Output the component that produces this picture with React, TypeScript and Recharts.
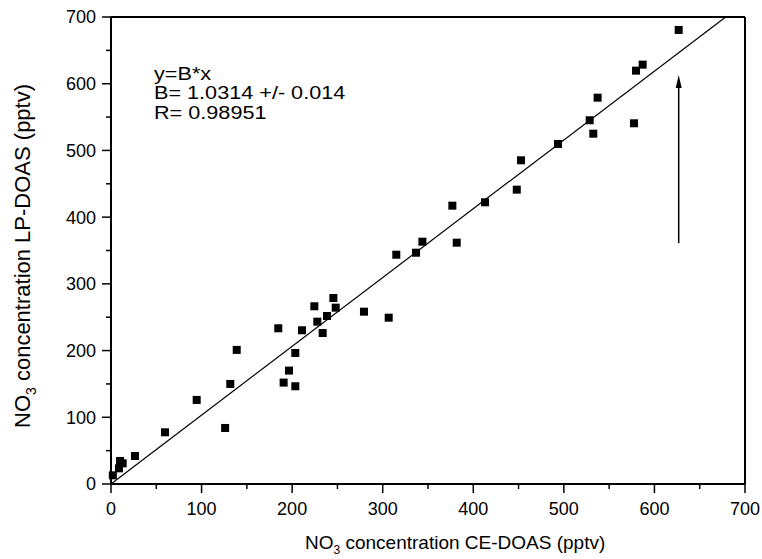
import React from 'react';
import { ScatterChart, Scatter, XAxis, YAxis, ReferenceLine } from 'recharts';

const ceDoas = [2, 8.8, 10, 12.9, 26.5, 59.6, 94.6, 126, 131.7, 138.8, 184.7, 190.6, 196.5, 203.5, 203.5, 210.9, 224.5, 227.8, 233.7, 238.5, 245.5, 248.1, 279.3, 306.6, 315, 336.8, 343.8, 376.9, 381.7, 413, 448, 452.7, 493.5, 528.5, 532.5, 537.3, 577.4, 579.7, 587, 626.8];
const lpDoas = [13, 23.5, 34.5, 31, 42, 77.5, 126, 84, 150, 201, 233.4, 152, 170, 146.5, 196.4, 230.4, 266.4, 243.3, 226.3, 251.8, 278.8, 264.3, 258.3, 249.3, 343.7, 346.7, 363.2, 417.2, 361.7, 422.3, 441.2, 485.2, 509.7, 545.2, 525.1, 579.1, 540.7, 619.6, 628.6, 680.6];
const axisTicks = [0, 50, 100, 150, 200, 250, 300, 350, 400, 450, 500, 550, 600, 650, 700];
const slopeB = 1.0314;
const annotationLines = ['y=B*x', 'B= 1.0314 +/- 0.014', 'R= 0.98951'];
const arrowX = 626.8;
const arrowFromY = 361;
const arrowToY = 613;

const data = ceDoas.map((x, i) => ({ x, y: lpDoas[i] }));

const FONT = '"Liberation Sans", Arial, sans-serif';
const isMajor = (v: number) => v % 100 === 0;

const BottomTick = (p: any) => {
  const v = p.payload.value;
  const major = isMajor(v);
  return (
    <g>
      <line x1={p.x} x2={p.x} y1={p.y} y2={p.y + (major ? 9 : 5)} stroke="#000" strokeWidth={1.5} />
      {major && (
        <text x={p.x} y={p.y + 31} textAnchor="middle" fontSize={18} fontFamily={FONT} fill="#000">{v}</text>
      )}
    </g>
  );
};
const LeftTick = (p: any) => {
  const v = p.payload.value;
  const major = isMajor(v);
  return (
    <g>
      <line x1={p.x - (major ? 9 : 5)} x2={p.x} y1={p.y} y2={p.y} stroke="#000" strokeWidth={1.5} />
      {major && (
        <text x={p.x - 15} y={p.y} dy="0.36em" textAnchor="end" fontSize={18} fontFamily={FONT} fill="#000">{v}</text>
      )}
    </g>
  );
};
const TopTick = (p: any) => {
  const major = isMajor(p.payload.value);
  return <line x1={p.x} x2={p.x} y1={p.y} y2={p.y + (major ? 10 : 5)} stroke="#000" strokeWidth={1.5} />;
};
const RightTick = (p: any) => {
  const major = isMajor(p.payload.value);
  return <line x1={p.x - (major ? 10 : 5)} x2={p.x} y1={p.y} y2={p.y} stroke="#000" strokeWidth={1.5} />;
};

const Square = (p: any) => <rect x={p.cx - 4} y={p.cy - 4} width={8} height={8} fill="#000" />;

const Arrow = (p: any) => {
  const { x1, y1, y2 } = p;
  const top = Math.min(y1, y2);
  const bottom = Math.max(y1, y2);
  return (
    <g>
      <line x1={x1} x2={x1} y1={bottom} y2={top + 10} stroke="#000" strokeWidth={1.5} />
      <polygon points={`${x1},${top} ${x1 - 3},${top + 13} ${x1 + 3},${top + 13}`} fill="#000" />
    </g>
  );
};

const XLabel = () => (
  <text x={305} y={549} fontSize={19} fontFamily={FONT} fill="#000">
    <tspan>NO</tspan>
    <tspan fontSize={12} dy={5}>3</tspan>
    <tspan dy={-5}> concentration CE-DOAS (pptv)</tspan>
  </text>
);
const YLabel = () => (
  <text x={0} y={0} transform="translate(30,428) rotate(-90)" fontSize={22} fontFamily={FONT} fill="#000">
    <tspan>NO</tspan>
    <tspan fontSize={14} dy={6}>3</tspan>
    <tspan dy={-6}> concentration LP-DOAS (pptv)</tspan>
  </text>
);

const Annotation = () => (
  <g>
    {annotationLines.map((t, i) => (
      <text key={i} x={0} y={0} transform={`translate(154,${80 + i * 19.3}) scale(1.17,1)`}
        fontSize={18.5} fontFamily={FONT} fill="#000">{t}</text>
    ))}
  </g>
);

export default function App() {
  return (
    <div style={{ position: 'absolute', left: 0, top: 0, width: 762, height: 559, background: '#fff' }}>
      <ScatterChart width={762} height={559} margin={{ top: 12, right: 12, bottom: 45, left: 51 }}>
        <XAxis type="number" dataKey="x" domain={[0, 700]} ticks={axisTicks} interval={0} height={30}
          tickSize={0} tickMargin={0} tickLine={false} axisLine={{ stroke: '#000', strokeWidth: 2 }} tick={BottomTick}
          label={() => <XLabel />} />
        <XAxis xAxisId="top" orientation="top" type="number" domain={[0, 700]} ticks={axisTicks} interval={0} height={5}
          tickSize={0} tickMargin={0} tickLine={false} axisLine={{ stroke: '#000', strokeWidth: 2 }} tick={TopTick} />
        <YAxis type="number" dataKey="y" domain={[0, 700]} ticks={axisTicks} interval={0} width={60}
          tickSize={0} tickMargin={0} tickLine={false} axisLine={{ stroke: '#000', strokeWidth: 2 }} tick={LeftTick}
          label={() => <YLabel />} />
        <YAxis yAxisId="right" orientation="right" type="number" domain={[0, 700]} ticks={axisTicks} interval={0} width={5}
          tickSize={0} tickMargin={0} tickLine={false} axisLine={{ stroke: '#000', strokeWidth: 2 }} tick={RightTick} />
        <ReferenceLine segment={[{ x: 0, y: 0 }, { x: 700 / slopeB, y: 700 }]} stroke="#000" strokeWidth={1.2}
          label={() => <Annotation />} />
        <ReferenceLine segment={[{ x: arrowX, y: arrowFromY }, { x: arrowX, y: arrowToY }]} shape={Arrow} />
        <Scatter data={data} shape={Square} isAnimationActive={false} />
      </ScatterChart>
    </div>
  );
}
